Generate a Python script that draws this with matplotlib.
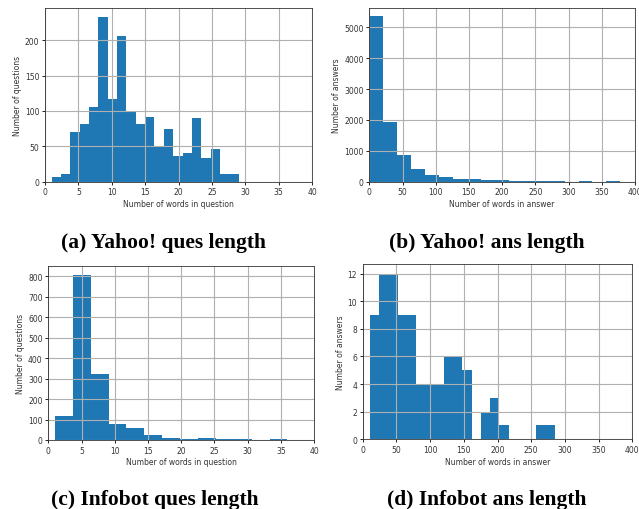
import matplotlib
matplotlib.use("Agg")
import matplotlib.pyplot as plt
import numpy as np

# ---- data ----
# (a) Yahoo! question length: 20 bins from 1 to 29
yq_edges = np.linspace(1, 29, 21)
yq_counts = [7, 11, 70, 82, 105, 233, 117, 206, 98, 82, 92, 50, 75, 36, 40, 90, 34, 46, 11, 11]

# (b) Yahoo! answer length: bins of width 21 from 0
ya_edges = np.arange(0, 379, 21)
ya_counts = [5350, 1930, 860, 410, 215, 150, 80, 75, 45, 45, 22, 20, 18, 15, 0, 15, 0, 15]

# (c) Infobot question length: 13 bins from 1 to 36
iq_edges = np.linspace(1, 36, 14)
iq_counts = [118, 808, 324, 80, 59, 24, 11, 3, 8, 4, 3, 0, 4]

# (d) Infobot answer length: 20 bins from 11 to 285
ia_edges = np.linspace(11, 285, 21)
ia_counts = [9, 12, 12, 9, 9, 4, 4, 4, 6, 6, 5, 0, 2, 3, 1, 0, 0, 0, 1, 1]

captions = ["(a) Yahoo! ques length", "(b) Yahoo! ans length",
            "(c) Infobot ques length", "(d) Infobot ans length"]
xlabels = ["Number of words in question", "Number of words in answer",
           "Number of words in question", "Number of words in answer"]
ylabels = ["Number of questions", "Number of answers",
           "Number of questions", "Number of answers"]
xlims = [(0, 40), (0, 400), (0, 40), (0, 400)]
ylims = [(0, 245), (0, 5615), (0, 852), (0, 12.7)]

W, H = 639, 510
fig = plt.figure(figsize=(W / 100, H / 100), dpi=100)

# axes boxes in pixels: left, right, top, bottom
boxes = [(45, 312, 9.3, 182.7), (369.3, 635, 9.3, 182.7),
         (48.3, 314, 266.7, 441), (362.7, 632.3, 265, 440.3)]
cap_pos = [(163.7, 248), (487, 248), (155, 505), (487, 505)]

data = [(yq_edges, yq_counts), (ya_edges, ya_counts),
        (iq_edges, iq_counts), (ia_edges, ia_counts)]

for i, (edges, counts) in enumerate(data):
    l, r, t, b = boxes[i]
    ax = fig.add_axes([l / W, (H - b) / H, (r - l) / W, (b - t) / H])
    ax.hist(edges[:-1], bins=edges, weights=counts, color="#1f77b4")
    ax.set_xlim(*xlims[i])
    ax.set_ylim(*ylims[i])
    ax.grid(True, color="#b0b0b0", linewidth=0.8)
    ax.set_xlabel(xlabels[i], fontsize=5.5, labelpad=2, color="#333333")
    ax.set_ylabel(ylabels[i], fontsize=5.5, labelpad=2, color="#333333")
    ax.tick_params(labelsize=5.5, length=2.5, width=0.6, pad=1.5, labelcolor="#333333")
    for s in ax.spines.values():
        s.set_linewidth(0.6)
        s.set_color("#333333")
    cx, cy = cap_pos[i]
    fig.text(cx / W, (H - cy) / H, captions[i], ha="center", va="baseline",
             fontsize=15.5, fontweight="bold", family="Liberation Serif")

fig.savefig("out.png", dpi=100)
